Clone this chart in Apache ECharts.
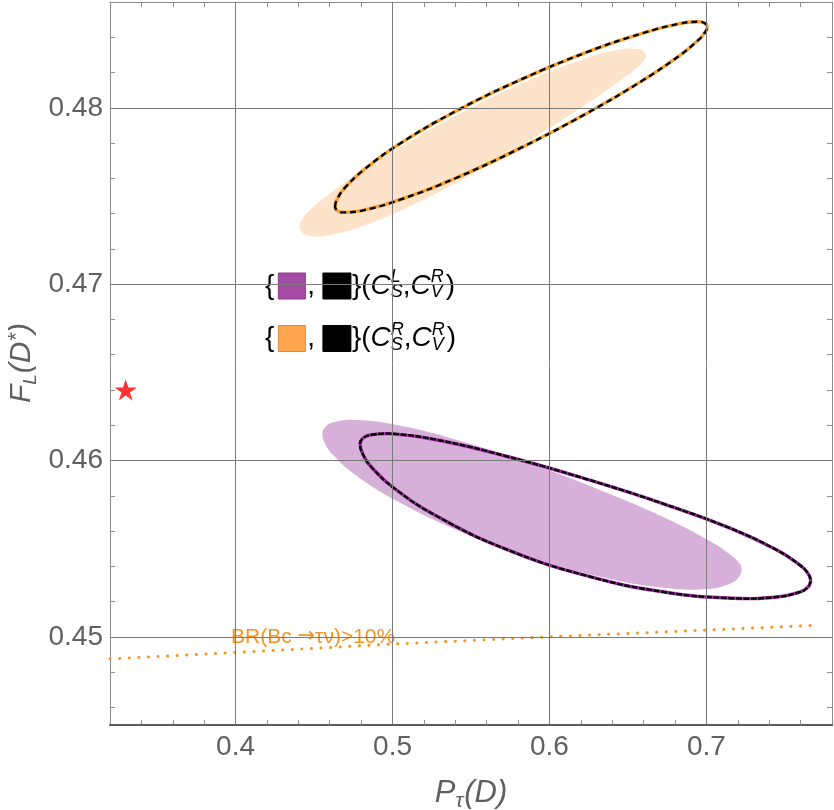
<!DOCTYPE html>
<html>
<head>
<meta charset="utf-8">
<script src="https://cdn.jsdelivr.net/npm/echarts@6.0.0/dist/echarts.min.js"></script>
<style>
html,body{margin:0;padding:0;background:#fff;}
#container1{width:834px;height:810px;}
</style>
</head>
<body>
<div id="container1"></div>
<script>
// axis ticks
var xMajorTicks = [0.4, 0.5, 0.6, 0.7];
var xMinorTicks = [0.34, 0.36, 0.38, 0.4, 0.42, 0.44, 0.46, 0.48, 0.5, 0.52, 0.54, 0.56,
                   0.58, 0.6, 0.62, 0.64, 0.66, 0.68, 0.7, 0.72, 0.74, 0.76];
var yMajorTicks = [0.45, 0.46, 0.47, 0.48];
var yMinorTicks = [0.446, 0.448, 0.45, 0.452, 0.454, 0.456, 0.458, 0.46, 0.462, 0.464,
                   0.466, 0.468, 0.47, 0.472, 0.474, 0.476, 0.478, 0.48, 0.482, 0.484];

// region boundaries [P_tau(D), F_L(D*)]: left tip, upper edge, right tip, lower edge
var orangeFill = [
  [0.4408,0.4733],
  [0.4425,0.47367],[0.4463,0.47409],[0.4574,0.47496],[0.4794,0.47636],[0.5125,0.47818],[0.5512,0.48005],
  [0.5898,0.48167],[0.6229,0.4828],[0.6450,0.4833],[0.6560,0.48333],[0.6599,0.4832],
  [0.6615,0.4829],
  [0.6599,0.48263],[0.6560,0.48229],[0.6450,0.48153],[0.6229,0.48017],[0.5898,0.47829],[0.5512,0.47627],
  [0.5125,0.47447],[0.4794,0.47324],[0.4574,0.47274],[0.4463,0.47276],[0.4425,0.47294]
];
var orangeLine = [
  [0.4634,0.47439],
  [0.4652,0.4749],[0.4693,0.47543],[0.4812,0.47645],[0.5049,0.47798],[0.5405,0.47982],[0.5820,0.48161],
  [0.6234,0.48314],[0.6590,0.48422],[0.6827,0.48477],[0.6946,0.48488],[0.6987,0.48481],
  [0.7005,0.48459],
  [0.6987,0.48423],[0.6946,0.48382],[0.6827,0.48295],[0.6590,0.48153],[0.6234,0.47967],[0.5820,0.47774],
  [0.5405,0.47602],[0.5049,0.47479],[0.4812,0.47418],[0.4693,0.47407],[0.4652,0.47415]
];
var purpleFill = [
  [0.4553,0.46151],
  [0.4573,0.46191],[0.4620,0.46215],[0.4753,0.4623],[0.5020,0.46203],[0.5421,0.46114],[0.5889,0.45978],
  [0.6356,0.4582],[0.6757,0.45666],[0.7024,0.45542],[0.7157,0.45463],[0.7204,0.45424],
  [0.7224,0.45385],
  [0.7204,0.45336],[0.7157,0.45304],[0.7024,0.45273],[0.6757,0.45276],[0.6356,0.45334],[0.5889,0.45448],
  [0.5421,0.45602],[0.5020,0.45774],[0.4753,0.45925],[0.4620,0.46032],[0.4573,0.4609]
];
var purpleLine = [
  [0.4793,0.46095],
  [0.4815,0.46129],[0.4865,0.46146],[0.5008,0.46151],[0.5295,0.46115],[0.5726,0.46024],[0.6229,0.45896],
  [0.6731,0.45753],[0.7162,0.45612],[0.7449,0.45492],[0.7592,0.45409],[0.7643,0.45365],
  [0.7664,0.4532],
  [0.7643,0.45279],[0.7592,0.45253],[0.7449,0.45226],[0.7162,0.45219],[0.6731,0.45254],[0.6229,0.45348],
  [0.5726,0.45496],[0.5295,0.45678],[0.5008,0.45844],[0.4865,0.45963],[0.4815,0.46028]
];
// BR(Bc -> tau nu) = 10% boundary
var brLine = [[0.32,0.44875],[0.4,0.44911],[0.5,0.44959],[0.6,0.45],[0.7,0.45038],[0.772,0.45066]];
// SM point
var smPoint = [[0.33, 0.464]];

var FONT = '"Liberation Sans", Arial, sans-serif';
var orange = '#F7941D';
var gray = '#606060';

var mctx = document.createElement('canvas').getContext('2d');
function fontStr(p){ return (p.italic ? 'italic ' : '') + p.size + 'px ' + (p.family || FONT); }
function textW(t, p){ mctx.font = fontStr(p); return mctx.measureText(t).width; }
function txt(t, x, y, p){
  return {type:'text', x:x, y:y, style:{text:t, fill:p.color || '#000', font:fontStr(p),
    align:'left', verticalAlign:'middle', textAlign:'left', textVerticalAlign:'middle'}};
}
// lays pieces out left to right, returns children and total width
function layout(pieces){
  var x = 0, ch = [];
  pieces.forEach(function(p){
    if (p.gap) { x += p.gap; return; }
    if (p.rect) {
      ch.push({type:'rect', shape:{x:x, y:-p.h/2, width:p.w, height:p.h},
        style:{fill:p.rect, stroke:p.stroke || p.rect, lineWidth:1}});
      x += p.w; return;
    }
    if (p.stack) {
      ch.push(txt(p.stack[0], x, p.up, p));
      ch.push(txt(p.stack[1], x, p.down, p));
      x += Math.max(textW(p.stack[0], p), textW(p.stack[1], p));
      return;
    }
    ch.push(txt(p.t, x, p.dy || 0, p));
    x += textW(p.t, p);
  });
  return {children: ch, width: x};
}
function legendRow(color, stroke, supS, cy){
  var big = 28, small = 18;
  var l = layout([
    {t:'{', size:big}, {gap:4},
    {rect:color, stroke:stroke, w:27, h:26}, {gap:2},
    {t:', ', size:big},
    {rect:'#000', w:28, h:26}, {gap:1},
    {t:'}(', size:big},
    {t:'C', size:big, italic:true},
    {stack:[supS, 'S'], size:small, italic:true, up:-9, down:6},
    {t:',', size:big},
    {t:'C', size:big, italic:true},
    {stack:['R', 'V'], size:small, italic:true, up:-9, down:6}, {gap:2},
    {t:')', size:big}
  ]);
  return {type:'group', x:265, y:cy, z:100, children:l.children};
}
function titleGroup(pieces, cx, cy, rot){
  var l = layout(pieces);
  l.children.forEach(function(c){ c.x -= l.width/2; });
  return {type:'group', x:cx, y:cy, rotation:rot || 0, z:100, children:l.children};
}

function xAxisCfg(pos, labels, color, width){
  return {
    type:'value', position:pos, min:0.32, max:0.78,
    axisLine:{show:true, onZero:false, lineStyle:{color:color, width:width}},
    axisTick:{show:true, inside:true, length:5, customValues:xMinorTicks, lineStyle:{color:'#8a8a8a', width:1}},
    axisLabel:{show:labels, customValues:xMajorTicks, margin:8, fontSize:28, color:gray, fontFamily:FONT},
    splitLine:{show:false}
  };
}
function yAxisCfg(pos, labels, color, width){
  return {
    type:'value', position:pos, min:0.445, max:0.486,
    axisLine:{show:true, onZero:false, lineStyle:{color:color, width:width}},
    axisTick:{show:true, inside:true, length:5, customValues:yMinorTicks, lineStyle:{color:'#8a8a8a', width:1}},
    axisLabel:{show:labels, customValues:yMajorTicks, margin:7, fontSize:28, color:gray, fontFamily:FONT},
    splitLine:{show:false}
  };
}
function fillSeries(pts, color){
  return {
    type:'custom', z:1, silent:true, data:pts, encode:{x:0, y:1},
    renderItem:function(params, api){
      if (params.dataIndex !== 0) return null;
      return {type:'polygon', shape:{points:pts.map(function(p){ return api.coord(p); }), smooth:0.45},
        style:{fill:color, stroke:'none'}};
    }
  };
}
function outlineSeries(pts, base, dash){
  return {
    type:'custom', z:3, silent:true, data:pts, encode:{x:0, y:1},
    renderItem:function(params, api){
      if (params.dataIndex !== 0) return null;
      var c = pts.map(function(p){ return api.coord(p); });
      return {type:'group', children:[
        {type:'polygon', shape:{points:c, smooth:0.45}, style:{fill:'none', stroke:base, lineWidth:3.4}},
        {type:'polygon', shape:{points:c, smooth:0.45}, style:{fill:'none', stroke:'#000', lineWidth:2.4, lineDash:dash}}
      ]};
    }
  };
}

var gridLines = xMajorTicks.map(function(v){ return {xAxis:v}; })
  .concat(yMajorTicks.map(function(v){ return {yAxis:v}; }));

var brLabel = layout([
  {t:'BR(Bc ', size:21, color:orange},
  {t:'\u2192', size:21, color:orange, family:'"DejaVu Sans", sans-serif'},
  {t:'\u03c4\u03bd)>10%', size:21, color:orange}
]);

var myChart = echarts.init(document.getElementById('container1'));
var option = {
  animation:false,
  backgroundColor:'#fff',
  grid:{left:110, right:2, top:2, bottom:85, outerBoundsMode:'none'},
  xAxis:[xAxisCfg('bottom', true, '#5a5a5a', 2), xAxisCfg('top', false, '#8a8a8a', 1)],
  yAxis:[yAxisCfg('left', true, '#8a8a8a', 1), yAxisCfg('right', false, '#8a8a8a', 1)],
  series:[
    fillSeries(orangeFill, '#FDE3C9'),
    fillSeries(purpleFill, '#D7B0DA'),
    {
      type:'line', z:2, data:[], silent:true,
      markLine:{silent:true, symbol:['none','none'], label:{show:false},
        lineStyle:{color:'#7a7a7a', width:1, type:'solid'}, emphasis:{disabled:true}, data:gridLines}
    },
    outlineSeries(orangeLine, '#F7A234', [6, 4]),
    outlineSeries(purpleLine, '#B030B0', [6, 1.5]),
    {
      type:'line', z:4, data:brLine, showSymbol:false, silent:true,
      lineStyle:{color:orange, width:3, type:[0.1, 9.5], cap:'round'}
    },
    {
      type:'scatter', z:5, data:smPoint, silent:true, symbolKeepAspect:true, symbolSize:22,
      symbol:'path://M12,0 L14.8,8.4 L23.4,8.4 L16.4,13.6 L19.1,22 L12,16.8 L4.9,22 L7.6,13.6 L0.6,8.4 L9.2,8.4 Z',
      itemStyle:{color:'#FF0000'}
    }
  ],
  graphic:[
    legendRow('#A64CA6', '#8a3a8a', 'L', 286),
    legendRow('#FFA64F', '#d98a3a', 'R', 338.5),
    {type:'group', x:231, y:637, z:100, children:brLabel.children},
    titleGroup([
      {t:'P', size:31, italic:true, color:gray},
      {t:'\u03c4', size:21, italic:true, color:gray, dy:8},
      {gap:1},
      {t:'(D)', size:31, italic:true, color:gray}
    ], 471, 793, 0),
    titleGroup([
      {t:'F', size:30, italic:true, color:gray},
      {t:'L', size:19, italic:true, color:gray, dy:9},
      {gap:1},
      {t:'(D', size:30, italic:true, color:gray},
      {t:'*', size:22, italic:true, color:gray, dy:-5},
      {t:')', size:30, italic:true, color:gray}
    ], 22, 363, Math.PI/2)
  ]
};
myChart.setOption(option, true);
</script>
</body>
</html>
